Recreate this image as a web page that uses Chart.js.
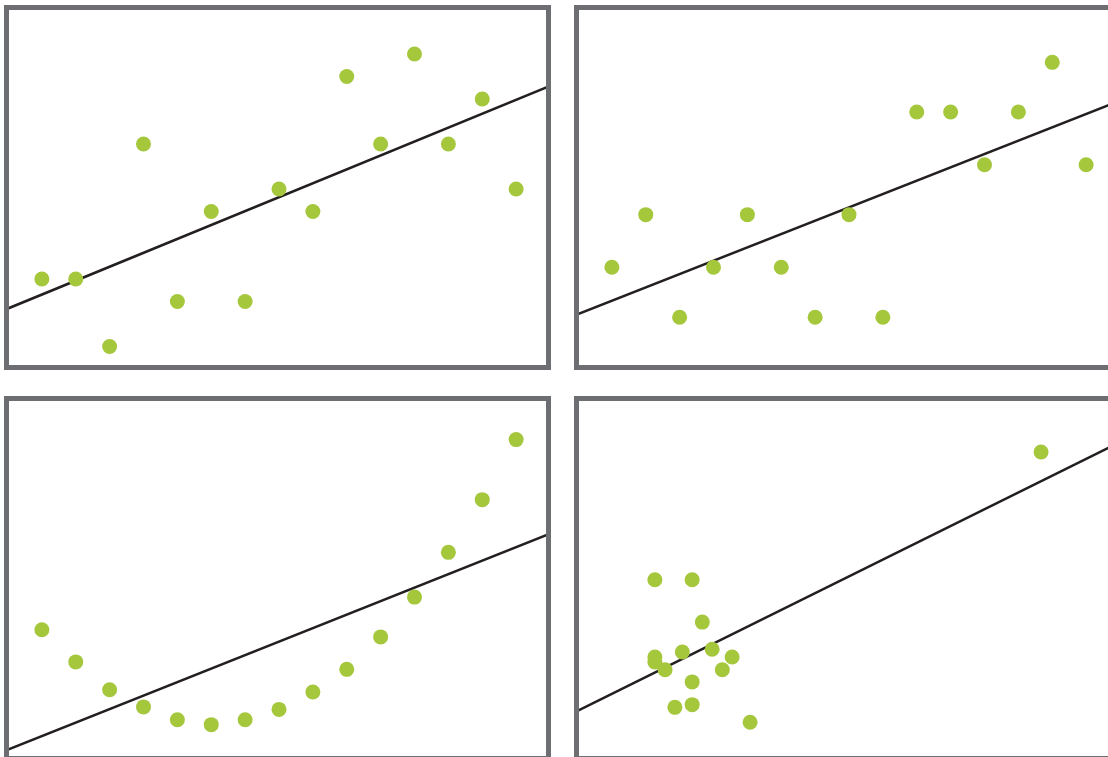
<!DOCTYPE html>
<html>
<head>
<meta charset="utf-8">
<script src="https://cdn.jsdelivr.net/npm/chart.js@4/dist/chart.umd.min.js"></script>
<style>
    html, body { margin: 0; padding: 0; background: #fff; overflow: hidden; }
    body { width: 1108px; height: 757px; position: relative; }
    canvas { position: absolute; }
    .frame { position: absolute; box-sizing: border-box; border: 5px solid #6d6e71; width: 547px; height: 365px; pointer-events: none; }
</style>
</head>
<body>
<canvas id="c_tl" width="542" height="360" style="left:8px;top:9px"></canvas>
<canvas id="c_tr" width="542" height="360" style="left:578px;top:9px"></canvas>
<canvas id="c_bl" width="542" height="360" style="left:8px;top:400px"></canvas>
<canvas id="c_br" width="542" height="360" style="left:578px;top:400px"></canvas>
<div class="frame" style="left:4px;top:5px"></div>
<div class="frame" style="left:574px;top:5px"></div>
<div class="frame" style="left:4px;top:396px"></div>
<div class="frame" style="left:574px;top:396px"></div>
<script>
'use strict';

// shared x for the first three panels
var x_steps = [1, 2, 3, 4, 5, 6, 7, 8, 9, 10, 11, 12, 13, 14, 15];

// top left
var tl_y = [4, 4, 1, 10, 3, 7, 3, 8, 7, 13, 10, 14, 10, 12, 8];
var tl_fit = [[0, 2.69], [16, 12.58]];

// top right
var tr_y = [4.52, 6.86, 2.30, 4.52, 6.86, 4.52, 2.30, 6.86, 2.30, 11.42, 11.42, 9.08, 11.42, 13.63, 9.08];
var tr_fit = [[0, 2.44], [16, 11.93]];

// bottom left
var bl_y = [5.79, 4.36, 3.12, 2.36, 1.79, 1.57, 1.79, 2.25, 3.02, 4.03, 5.47, 7.24, 9.23, 11.57, 14.24];
var bl_fit = [[0, 0.46], [16, 10.06]];

// bottom right (own x values)
var br_x = [2.27, 3.37, 3.67, 2.27, 2.27, 2.57, 3.08, 3.96, 4.55, 4.26, 3.37, 2.86, 3.37, 5.08, 13.67];
var br_y = [8.01, 8.01, 6.13, 4.58, 4.36, 4.01, 4.80, 4.92, 4.58, 4.01, 3.47, 2.34, 2.46, 1.68, 13.69];
var br_fit = [[0, 2.19], [16, 14.13]];

var dot_color = '#a5c73c';
var line_color = '#231f20';

function panel(id, xs, ys, fit) {
    var pts = xs.map((x, i) => ({x: x, y: ys[i]}));
    var line = fit.map(p => ({x: p[0], y: p[1]}));
    return new Chart(document.getElementById(id), {
        type: 'scatter',
        data: {
            datasets: [{
                data: pts,
                order: 0,
                pointRadius: 7.5,
                pointBackgroundColor: dot_color,
                pointBorderWidth: 0,
                showLine: false
            }, {
                data: line,
                order: 1,
                showLine: true,
                borderColor: line_color,
                borderWidth: 2.5,
                pointRadius: 0,
                clip: 0
            }]
        },
        options: {
            responsive: false,
            animation: false,
            layout: {padding: 0, autoPadding: false}, // no inset for point radius
            plugins: {legend: {display: false}, tooltip: {enabled: false}},
            scales: {
                x: {type: 'linear', min: 0, max: 16, display: false},
                y: {type: 'linear', min: 0, max: 16, display: false}
            }
        }
    });
}

panel('c_tl', x_steps, tl_y, tl_fit);
panel('c_tr', x_steps, tr_y, tr_fit);
panel('c_bl', x_steps, bl_y, bl_fit);
panel('c_br', br_x, br_y, br_fit);
</script>
</body>
</html>
